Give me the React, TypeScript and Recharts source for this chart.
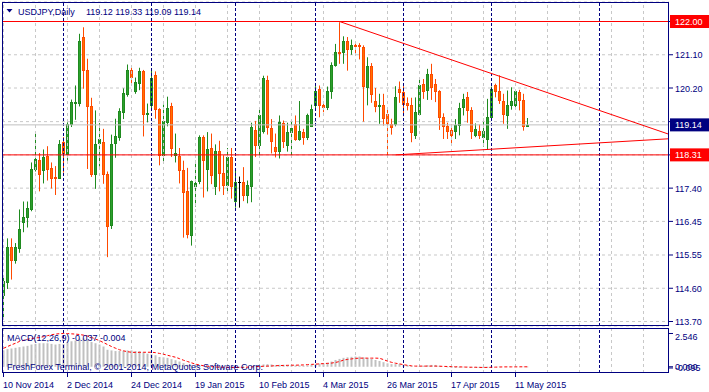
import React from "react";
import {
  ComposedChart,
  Bar,
  Line,
  XAxis,
  YAxis,
  CartesianGrid,
  ReferenceLine,
} from "recharts";

const NAVY = "#000080";
const FONT = "'Liberation Sans', Arial, sans-serif";
const BULL_FILL = "#2ca02c";
const BULL_EDGE = "#1f8a1f";
const BEAR_FILL = "#ff7400";
const BEAR_EDGE = "#ff4a00";

// USDJPY daily bars, 10 Nov 2014 .. 14 May 2015 (bar index = trading day)
const opens = [
  114.42, 114.8, 115.75, 115.4, 115.73, 116.45, 116.58, 116.8, 117.93, 118.18,
  117.88, 118.27, 117.96, 117.7, 117.68, 118.66, 118.34, 119.17, 119.74, 119.74,
  121.58, 120.66, 119.65, 117.79, 118.63, 118.66, 117.79, 116.36, 118.63, 118.8,
  119.49, 120.0, 120.66, 120.07, 120.29, 120.64, 119.45, 119.68, 120.53, 119.58,
  118.32, 119.21, 119.65, 118.3, 118.29, 117.88, 117.3, 116.08, 117.46, 117.6,
  118.8, 117.93, 118.51, 117.46, 118.43, 117.8, 117.49, 118.26, 117.03, 117.55,
  117.55, 117.21, 117.46, 119.01, 118.57, 118.98, 120.39, 119.04, 118.54, 118.43,
  119.18, 118.57, 118.93, 119.17, 118.76, 118.94, 118.8, 119.1, 119.7, 120.12,
  119.7, 119.63, 120.09, 120.8, 121.17, 121.15, 121.45, 121.24, 121.36, 121.36,
  121.29, 120.18, 120.78, 119.81, 119.66, 119.7, 119.45, 119.17, 119.17, 120.12,
  120.06, 119.74, 119.7, 118.87, 119.45, 120.26, 120.11, 120.55, 120.28, 120.07,
  119.35, 119.1, 119.0, 118.97, 119.15, 119.63, 119.92, 119.56, 118.85, 118.98,
  118.8, 118.75, 119.35, 120.23, 120.07, 119.81, 119.4, 119.68, 119.7, 120.04,
  119.83, 119.12,
];
const highs = [
  114.95, 116.0, 116.0, 115.87, 116.8, 117.02, 117.02, 118.1, 118.96, 118.36,
  118.46, 118.55, 118.1, 118.0, 118.72, 118.8, 119.21, 119.84, 120.23, 121.66,
  121.84, 120.97, 119.89, 119.54, 119.19, 119.03, 117.85, 118.87, 119.31, 119.6,
  120.15, 120.81, 120.74, 120.45, 120.72, 120.66, 119.73, 120.7, 120.62, 119.6,
  119.7, 119.92, 119.75, 118.9, 118.5, 118.15, 117.95, 117.6, 118.15, 118.85,
  118.85, 118.94, 118.9, 118.6, 118.7, 118.3, 118.5, 118.5, 117.9, 117.71,
  117.97, 117.6, 119.2, 119.25, 119.6, 120.5, 120.5, 119.3, 118.9, 119.4,
  119.26, 119.2, 119.3, 119.4, 119.8, 119.03, 119.45, 119.7, 120.21, 120.23,
  119.79, 120.2, 120.87, 121.38, 121.98, 121.59, 121.57, 121.5, 121.45, 121.4,
  121.34, 121.01, 120.85, 120.16, 120.0, 120.0, 119.57, 119.31, 120.21, 120.34,
  120.21, 119.9, 119.89, 119.9, 120.41, 120.41, 120.69, 120.83, 120.41, 120.1,
  119.46, 119.2, 119.15, 119.3, 119.75, 120.0, 120.05, 119.63, 119.18, 119.15,
  119.31, 119.86, 120.2, 120.28, 120.51, 120.0, 120.09, 120.18, 120.12, 120.11,
  120.0, 119.33,
];
const lows = [
  113.81, 114.6, 114.86, 115.3, 115.6, 116.17, 116.3, 116.75, 117.85, 117.3,
  117.52, 117.6, 117.38, 117.2, 117.65, 117.82, 118.15, 119.08, 119.28, 119.65,
  120.14, 117.92, 117.7, 117.37, 117.99, 117.51, 115.48, 116.26, 118.23, 118.7,
  119.3, 119.92, 120.23, 120.0, 120.1, 118.82, 119.21, 119.6, 119.31, 118.02,
  118.1, 119.1, 118.25, 118.1, 117.52, 116.02, 116.0, 115.8, 116.88, 117.5,
  117.13, 117.3, 117.5, 117.2, 117.3, 117.2, 117.3, 117.1, 116.85, 116.85,
  117.03, 116.97, 117.0, 118.25, 118.27, 118.9, 118.87, 118.35, 118.24, 118.21,
  118.5, 118.4, 118.25, 118.7, 118.7, 118.59, 118.72, 119.08, 119.6, 119.35,
  119.49, 119.55, 119.86, 120.75, 120.83, 120.83, 120.64, 121.08, 121.05, 120.95,
  119.23, 119.68, 119.75, 119.49, 119.17, 119.12, 118.29, 118.87, 119.1, 119.75,
  119.38, 119.54, 118.66, 118.75, 119.4, 119.86, 119.83, 119.83, 119.77, 119.0,
  118.75, 118.75, 118.62, 118.75, 118.85, 119.4, 119.2, 118.75, 118.8, 118.75,
  118.54, 118.45, 119.3, 119.9, 119.72, 119.17, 119.03, 119.56, 119.6, 119.54,
  118.98, 119.09,
];
const closes = [
  114.83, 115.75, 115.39, 115.75, 116.25, 116.6, 116.83, 117.93, 118.2, 117.77,
  118.24, 117.93, 117.68, 117.68, 118.6, 118.36, 119.17, 119.77, 119.77, 121.47,
  120.66, 119.65, 117.79, 118.62, 118.76, 117.79, 116.33, 118.6, 118.82, 119.52,
  120.02, 120.66, 120.46, 120.34, 120.64, 119.45, 119.48, 120.44, 119.58, 118.32,
  119.24, 119.61, 118.51, 118.37, 117.9, 117.27, 116.13, 117.6, 117.53, 118.8,
  118.18, 118.46, 117.74, 118.43, 117.82, 117.49, 118.26, 117.46, 117.55, 117.55,
  117.21, 117.49, 119.08, 118.57, 119.4, 120.45, 119.08, 118.7, 118.43, 119.21,
  118.7, 118.93, 119.04, 118.76, 118.96, 118.8, 119.4, 119.58, 120.09, 119.7,
  119.63, 120.09, 120.8, 121.17, 121.13, 121.47, 121.24, 121.36, 121.32, 121.32,
  120.21, 120.78, 120.0, 119.66, 119.7, 119.33, 119.2, 119.08, 119.91, 120.06,
  119.72, 119.68, 118.94, 119.49, 120.23, 120.09, 120.55, 120.18, 120.07, 119.35,
  119.1, 118.97, 118.87, 119.15, 119.61, 119.86, 119.54, 118.98, 119.03, 118.85,
  118.98, 119.35, 120.14, 120.09, 119.83, 119.45, 119.7, 119.8, 120.07, 119.83,
  119.12, 119.14,
];

const macdMain = [
  1.26, 1.35, 1.4, 1.45, 1.5, 1.55, 1.6, 1.7, 1.75, 1.8,
  1.8, 1.8, 1.75, 1.7, 1.75, 1.75, 1.85, 1.95, 2.0, 2.15,
  2.17, 2.1, 1.9, 1.8, 1.7, 1.55, 1.3, 1.25, 1.2, 1.2,
  1.22, 1.25, 1.25, 1.2, 1.2, 1.1, 1.0, 0.95, 0.88, 0.75,
  0.72, 0.68, 0.58, 0.5, 0.4, 0.28, 0.15, 0.1, 0.05, 0.05,
  0.02, 0.0, -0.02, -0.04, -0.06, -0.08, -0.07, -0.09, -0.095, -0.09,
  -0.09, -0.08, 0.0, 0.03, 0.08, 0.18, 0.2, 0.18, 0.12, 0.15,
  0.15, 0.12, 0.12, 0.1, 0.1, 0.08, 0.1, 0.14, 0.2, 0.24,
  0.26, 0.3, 0.4, 0.52, 0.6, 0.68, 0.72, 0.76, 0.78, 0.78,
  0.72, 0.66, 0.6, 0.52, 0.44, 0.35, 0.26, 0.2, 0.2, 0.2,
  0.15, 0.12, 0.05, 0.02, 0.05, 0.08, 0.12, 0.14, 0.14, 0.08,
  0.0, -0.05, -0.08, -0.09, -0.07, -0.04, -0.03, -0.06, -0.08, -0.09,
  -0.09, -0.07, -0.02, 0.01, 0.02, 0.0, -0.01, -0.01, 0.01, 0.0,
  -0.03, -0.037,
];
const macdSignal = [
  1.41, 1.55, 1.68, 1.8, 1.94, 2.02, 2.1, 2.16, 2.2, 2.24,
  2.3, 2.38, 2.45, 2.5, 2.53, 2.546, 2.54, 2.52, 2.5, 2.47,
  2.42, 2.35, 2.25, 2.12, 2.0, 1.85, 1.7, 1.55, 1.42, 1.3,
  1.22, 1.15, 1.11, 1.1, 1.1, 1.11, 1.11, 1.11, 1.08, 1.02,
  0.96, 0.88, 0.8, 0.73, 0.62, 0.5, 0.4, 0.3, 0.2, 0.13,
  0.08, 0.04, 0.01, -0.02, -0.03, -0.04, -0.05, -0.05, -0.05, -0.05,
  -0.04, -0.03, -0.01, 0.0, 0.02, 0.04, 0.05, 0.06, 0.08, 0.09,
  0.1, 0.11, 0.12, 0.12, 0.13, 0.14, 0.16, 0.18, 0.2, 0.22,
  0.24, 0.26, 0.28, 0.33, 0.4, 0.51, 0.56, 0.6, 0.64, 0.66,
  0.66, 0.66, 0.66, 0.66, 0.65, 0.55, 0.43, 0.34, 0.27, 0.22,
  0.16, 0.11, 0.07, 0.05, 0.05, 0.05, 0.05, 0.05, 0.05, 0.04,
  0.03, 0.02, 0.01, 0.0, -0.01, -0.02, -0.03, -0.04, -0.04, -0.05,
  -0.05, -0.05, -0.04, -0.03, -0.02, -0.01, -0.01, -0.01, -0.01, -0.005,
  -0.004, -0.004,
];

const dateTickBars = [0, 16, 32, 48, 64, 80, 96, 112, 128];
const dateTickLabels = [
  "10 Nov 2014", "2 Dec 2014", "24 Dec 2014", "19 Jan 2015", "10 Feb 2015",
  "4 Mar 2015", "26 Mar 2015", "17 Apr 2015", "11 May 2015",
];
const gridBars = [
  0, 8, 16, 24, 32, 40, 48, 56, 64, 72, 80, 88, 96, 104, 112, 120, 128, 136,
  144, 152, 160,
];
const monthStartBars = [15, 37, 58, 78, 100, 122, 149];

const priceTicks = [113.7, 114.62, 115.54, 116.47, 117.39, 118.31, 119.23, 120.16, 121.08, 122.0];
const priceTickLabels = ["113.70", "114.60", "115.55", "116.45", "117.40", "118.30", "119.25", "120.20", "121.10", "122.00"];
const macdTicks = [2.546, 0, -0.095];
const macdTickLabels = ["2.546", "0.000", "-0.095"];

const resistance = 122.0;
const support = 118.31;
const lastPrice = 119.14;
const falling = [{ x: 84, y: 122.0 }, { x: 166.375, y: 118.88 }];
const rising = [{ x: 98, y: 118.31 }, { x: 166.375, y: 118.756 }];

const headerQuote = "119.12 119.33 119.09 119.14";
const macdTitle = "MACD(12,26,9) -0.037 -0.004";
const copyright = "FreshForex Terminal, © 2001-2014, MetaQuotes Software Corp.";

const data = opens.map((open, i) => ({
  bar: i,
  open,
  high: highs[i],
  low: lows[i],
  close: closes[i],
  range: [lows[i], highs[i]],
  macd: macdMain[i],
  signal: macdSignal[i],
}));

const X_DOMAIN: [number, number] = [-0.375, 166.375];
const PRICE_DOMAIN: [number, number] = [113.5756, 122.5395];
const MAIN_MARGIN = { top: 2, right: 0, bottom: 2, left: 2 };

function Candle(props: any) {
  const { x, y, width, height, payload } = props;
  if (!payload || x == null) return null;
  const { open, close, high, low } = payload;
  const cx = Math.floor(x + width / 2) + 0.5;
  const top = Math.min(y, y + height);
  const h = Math.abs(height);
  const span = high - low || 1;
  const yOf = (v: number) => top + ((high - v) / span) * h;
  const yo = yOf(open);
  const yc = yOf(close);
  if (open === close) {
    const yd = Math.round(yo) + 0.5;
    return (
      <g>
        <line x1={cx} x2={cx} y1={top} y2={top + h} stroke="#000" />
        <line x1={cx - 1.5} x2={cx + 1.5} y1={yd} y2={yd} stroke="#000" />
      </g>
    );
  }
  const up = close > open;
  const bt = Math.round(Math.min(yo, yc)) + 0.5;
  const bb = Math.max(Math.round(Math.max(yo, yc)) + 0.5, bt + 1);
  return (
    <g>
      <line x1={cx} x2={cx} y1={top} y2={top + h} stroke={up ? BULL_EDGE : BEAR_EDGE} />
      <rect
        x={cx - 1}
        y={bt}
        width={2}
        height={bb - bt}
        fill={up ? BULL_FILL : BEAR_FILL}
        stroke={up ? BULL_EDGE : BEAR_EDGE}
      />
    </g>
  );
}

function PriceBox(props: any) {
  const { viewBox, text, fill } = props;
  if (!viewBox) return null;
  const x = viewBox.x + viewBox.width + 1;
  const y = viewBox.y;
  return (
    <g>
      <rect x={x} y={y - 6.5} width={40} height={13} fill={fill} />
      <text x={x + 5} y={y + 3.5} fill="#fff" fontSize={9} fontFamily={FONT}>
        {text}
      </text>
    </g>
  );
}

function PriceTick(props: any) {
  const { x, y, payload } = props;
  const i = priceTicks.indexOf(payload.value);
  return (
    <text x={x} y={y + 3.5} fill={NAVY} fontSize={9} fontFamily={FONT}>
      {priceTickLabels[i]}
    </text>
  );
}

function MacdTick(props: any) {
  const { x, y, payload } = props;
  const i = macdTicks.indexOf(payload.value);
  return (
    <text x={x} y={y + (i === 0 ? 7 : 3.5)} fill={NAVY} fontSize={9} fontFamily={FONT}>
      {macdTickLabels[i]}
    </text>
  );
}

function DateTick(props: any) {
  const { x, y, payload } = props;
  const i = dateTickBars.indexOf(payload.value);
  return (
    <text x={x - 0.5} y={y + 9} fill={NAVY} fontSize={9} fontFamily={FONT}>
      {dateTickLabels[i]}
    </text>
  );
}

export default function App() {
  return (
    <div
      style={{
        position: "absolute",
        left: 0,
        top: 0,
        width: 709,
        height: 392,
        background: "#fff",
        overflow: "hidden",
      }}
    >
      {/* price window: grid, separators, candles */}
      <div style={{ position: "absolute", left: 0, top: 0 }}>
        <ComposedChart width={709} height={328} data={data} margin={MAIN_MARGIN}>
          <CartesianGrid vertical={false} stroke="#c8c8c8" strokeDasharray="3 3" />
          <XAxis dataKey="bar" type="number" domain={X_DOMAIN} allowDataOverflow hide />
          <YAxis
            orientation="right"
            domain={PRICE_DOMAIN}
            allowDataOverflow
            ticks={priceTicks}
            interval={0}
            width={40}
            tickSize={4}
            tickMargin={2}
            axisLine={false}
            tickLine={{ stroke: NAVY }}
            tick={<PriceTick />}
          />
          {gridBars.map((b) => (
            <ReferenceLine key={"g" + b} x={b} stroke="#c8c8c8" strokeDasharray="3 3" />
          ))}
          {monthStartBars.map((b) => (
            <ReferenceLine key={"m" + b} x={b} stroke={NAVY} strokeDasharray="3 2" />
          ))}
          <ReferenceLine y={lastPrice} stroke="#c0c0c0" />
          <Bar
            dataKey="range"
            barSize={3}
            isAnimationActive={false}
            shape={(p: any) => <Candle {...p} />}
          />
        </ComposedChart>
      </div>

      {/* objects on top: horizontal levels, trend lines, price boxes */}
      <div style={{ position: "absolute", left: 0, top: 0 }}>
        <ComposedChart width={709} height={328} data={data} margin={MAIN_MARGIN}>
          <XAxis dataKey="bar" type="number" domain={X_DOMAIN} allowDataOverflow hide />
          <YAxis
            orientation="right"
            domain={PRICE_DOMAIN}
            allowDataOverflow
            width={40}
            tick={false}
            tickLine={false}
            axisLine={false}
          />
          <ReferenceLine
            y={lastPrice}
            stroke="none"
            label={<PriceBox text={lastPrice.toFixed(2)} fill={NAVY} />}
          />
          <ReferenceLine
            y={resistance}
            stroke="#ff0000"
            label={<PriceBox text={resistance.toFixed(2)} fill="#ff0000" />}
          />
          <ReferenceLine
            y={support}
            stroke="#ff0000"
            label={<PriceBox text={support.toFixed(2)} fill="#ff0000" />}
          />
          <ReferenceLine segment={falling} stroke="#ff0000" />
          <ReferenceLine segment={rising} stroke="#ff0000" />
        </ComposedChart>
      </div>

      {/* MACD window */}
      <div style={{ position: "absolute", left: 0, top: 326 }}>
        <ComposedChart
          width={709}
          height={66}
          data={data}
          margin={{ top: 2, right: 0, bottom: 0, left: 2 }}
        >
          <XAxis
            dataKey="bar"
            type="number"
            domain={X_DOMAIN}
            allowDataOverflow
            ticks={dateTickBars}
            interval={0}
            height={19}
            tickSize={4}
            tickMargin={2}
            axisLine={false}
            tickLine={{ stroke: NAVY }}
            tick={<DateTick />}
          />
          <YAxis
            orientation="right"
            domain={[-0.478, 2.967]}
            allowDataOverflow
            ticks={macdTicks}
            interval={0}
            width={40}
            tickSize={4}
            tickMargin={2}
            axisLine={false}
            tickLine={{ stroke: NAVY }}
            tick={<MacdTick />}
          />
          {gridBars.map((b) => (
            <ReferenceLine key={"g" + b} x={b} stroke="#c8c8c8" strokeDasharray="3 3" />
          ))}
          {monthStartBars.map((b) => (
            <ReferenceLine key={"m" + b} x={b} stroke={NAVY} strokeDasharray="3 2" />
          ))}
          <Bar dataKey="macd" barSize={2} fill="#c0c0c0" isAnimationActive={false} />
          <Line
            dataKey="signal"
            type="linear"
            stroke="#ff0000"
            strokeDasharray="3 2"
            dot={false}
            isAnimationActive={false}
          />
        </ComposedChart>
      </div>

      <svg
        width={709}
        height={392}
        style={{ position: "absolute", left: 0, top: 0, pointerEvents: "none" }}
        fontFamily={FONT}
        fontSize={9}
      >
        <rect x={2.5} y={2.5} width={666} height={323} fill="none" stroke={NAVY} />
        <rect x={2.5} y={328.5} width={666} height={44} fill="none" stroke={NAVY} />
        <polygon points="6.5,9 12.5,9 9.5,12.5" fill={NAVY} />
        <text x={18} y={14.5} fill={NAVY}>USDJPY,Daily</text>
        <text x={86} y={14.5} fill={NAVY}>{headerQuote}</text>
        <text x={7} y={341} fill={NAVY}>{macdTitle}</text>
        <text x={7} y={370} fill={NAVY}>{copyright}</text>
      </svg>
    </div>
  );
}
